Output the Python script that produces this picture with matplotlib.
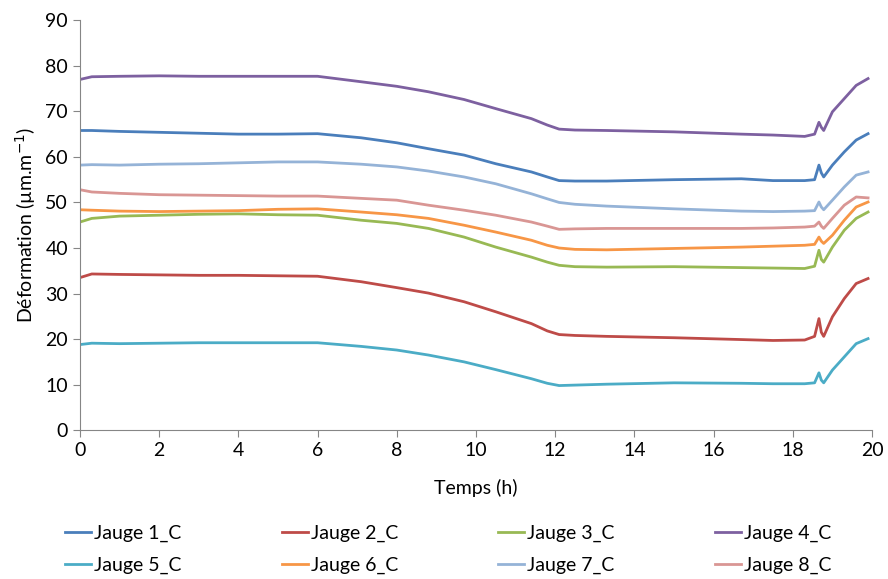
import matplotlib
matplotlib.use("Agg")
import matplotlib.pyplot as plt

plt.rcParams['font.family'] = ['Lato', 'DejaVu Sans']

# temps (h)
t = [0, 0.3, 1, 2, 3, 4, 5, 6, 7.1, 8, 8.8, 9.7, 10.5, 11.4, 11.8, 12.1, 12.5, 13.3, 15, 16.7,
     17.5, 18.3, 18.55, 18.66, 18.72, 18.78, 19.0, 19.3, 19.6, 19.9]

jauge1 = [65.8, 65.8, 65.6, 65.4, 65.2, 65.0, 65.0, 65.1, 64.2, 63.1, 61.8, 60.4, 58.5, 56.7, 55.6,
          54.8, 54.7, 54.7, 55.0, 55.2, 54.8, 54.8, 55.0, 58.2, 56.5, 55.6, 58.2, 61.1, 63.7, 65.1]
jauge2 = [33.5, 34.3, 34.2, 34.1, 34.0, 34.0, 33.9, 33.8, 32.6, 31.3, 30.1, 28.2, 26.0, 23.4, 21.8,
          21.0, 20.8, 20.6, 20.3, 19.9, 19.7, 19.8, 20.6, 24.5, 21.5, 20.6, 24.9, 28.9, 32.2, 33.3]
jauge3 = [45.7, 46.5, 47.0, 47.2, 47.4, 47.5, 47.3, 47.2, 46.1, 45.4, 44.3, 42.4, 40.2, 38.0, 36.9,
          36.2, 35.9, 35.8, 35.9, 35.7, 35.6, 35.5, 36.0, 39.5, 37.5, 36.9, 40.2, 43.9, 46.5, 47.9]
jauge4 = [77.0, 77.6, 77.7, 77.8, 77.7, 77.7, 77.7, 77.7, 76.5, 75.5, 74.3, 72.6, 70.6, 68.4, 67.0,
          66.1, 65.9, 65.8, 65.5, 65.0, 64.8, 64.5, 65.0, 67.6, 66.5, 65.8, 69.9, 72.8, 75.7, 77.2]
jauge5 = [18.8, 19.1, 19.0, 19.1, 19.2, 19.2, 19.2, 19.2, 18.4, 17.6, 16.5, 15.0, 13.3, 11.3, 10.3,
          9.8, 9.9, 10.1, 10.4, 10.3, 10.2, 10.2, 10.4, 12.6, 11.0, 10.4, 13.2, 16.1, 19.0, 20.1]
jauge6 = [48.4, 48.3, 48.1, 48.0, 48.1, 48.2, 48.5, 48.6, 47.9, 47.3, 46.5, 45.0, 43.5, 41.7, 40.6,
          40.0, 39.7, 39.6, 39.9, 40.2, 40.4, 40.6, 40.8, 42.4, 41.5, 41.0, 42.8, 46.1, 49.0, 50.1]
jauge7 = [58.2, 58.3, 58.2, 58.4, 58.5, 58.7, 58.9, 58.9, 58.4, 57.8, 56.9, 55.6, 54.1, 51.9, 50.8,
          50.0, 49.6, 49.2, 48.6, 48.1, 48.0, 48.1, 48.2, 50.1, 49.0, 48.4, 50.5, 53.4, 56.0, 56.7]
jauge8 = [52.8, 52.3, 52.0, 51.7, 51.6, 51.5, 51.4, 51.4, 50.9, 50.5, 49.4, 48.3, 47.2, 45.7, 44.8,
          44.1, 44.2, 44.3, 44.3, 44.3, 44.4, 44.6, 44.8, 45.7, 44.8, 44.3, 46.5, 49.4, 51.2, 51.0]

series = [jauge1, jauge2, jauge3, jauge4, jauge5, jauge6, jauge7, jauge8]
labels = ["Jauge 1_C", "Jauge 2_C", "Jauge 3_C", "Jauge 4_C",
          "Jauge 5_C", "Jauge 6_C", "Jauge 7_C", "Jauge 8_C"]
colors = ["#4A7EBB", "#BE4B48", "#98B954", "#7D60A0",
          "#4BACC6", "#F79646", "#95B3D7", "#D99694"]

fig = plt.figure(figsize=(8.88, 5.79), dpi=100)
ax = fig.add_axes([0.090, 0.257, 0.892, 0.708])

lines = []
for y, lab, c in zip(series, labels, colors):
    ln, = ax.plot(t, y, color=c, lw=2.0, label=lab)
    lines.append(ln)

ax.set_xlim(0, 20)
ax.set_ylim(0, 90)
ax.set_xticks(range(0, 21, 2))
ax.set_yticks(range(0, 91, 10))
for s in ["top", "right"]:
    ax.spines[s].set_visible(False)
for s in ["left", "bottom"]:
    ax.spines[s].set_color("#868686")
ax.tick_params(axis="both", direction="out", length=5, color="#868686",
               labelsize=14, labelcolor="#000000")
ax.set_xlabel("Temps (h)", fontsize=14, labelpad=14)
ax.set_ylabel("Déformation (µm.m$^{-1}$)", fontsize=14, labelpad=5)

# legend filled row by row (matplotlib fills column-major)
order = [0, 4, 1, 5, 2, 6, 3, 7]
fig.legend([lines[i] for i in order], [labels[i] for i in order],
           loc="upper left", bbox_to_anchor=(0.073, 0.093), ncol=4, frameon=False,
           fontsize=14, handlelength=1.35, handletextpad=0.15, columnspacing=5.15,
           labelspacing=0.72, borderpad=0, borderaxespad=0)

fig.savefig("out.png", dpi=100)
